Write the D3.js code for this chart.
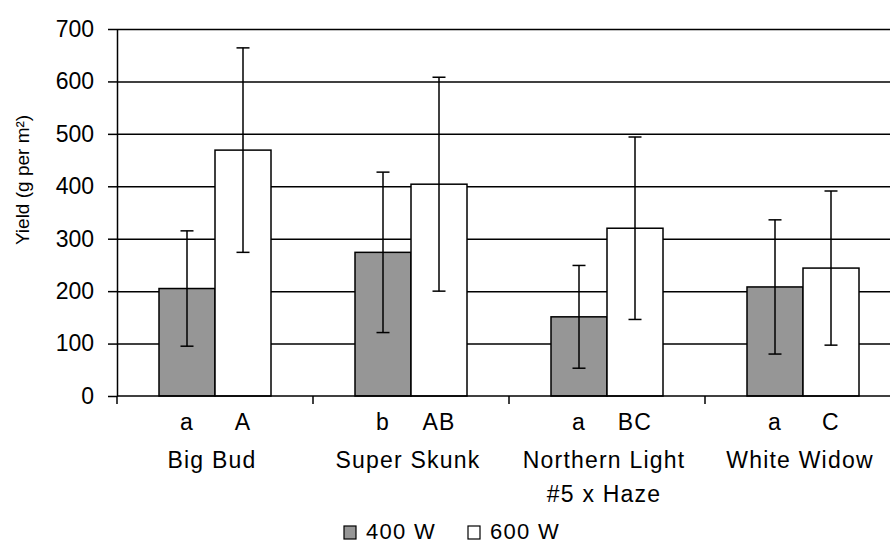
<!DOCTYPE html>
<html>
  <head>
    <meta charset="utf-8">
    <script src="https://cdn.jsdelivr.net/npm/d3@7/dist/d3.min.js"></script>
    <style type="text/css">
      body { margin: 0; background: #fff; }
      svg { display: block; overflow: hidden; }
      text { font-family: "Liberation Sans", Arial, sans-serif; fill: #000; }
      .axis path, .axis line { fill: none; stroke: #000; stroke-width: 1.5; }
      .axis text { font-size: 23px; }
      .grid line { stroke: #000; stroke-width: 1.5; }
      .grid path { display: none; }
      .lbl { font-size: 23px; letter-spacing: 1.2px; }
      .leg { font-size: 22px; letter-spacing: 1.3px; }
      .ytitle { font-family: "Liberation Sans Narrow", "Arial Narrow", sans-serif; font-size: 19px; }
    </style>
  </head>
  <body>
    <div class="plot_canvas"></div>
    <script>
      // data
      var categories = ["Big Bud", "Super Skunk", "Northern Light|#5 x Haze", "White Widow"];
      var series = ["400 W", "600 W"];
      var yield400 = [205, 274, 151, 208];
      var err400 = [110, 153, 98, 128];
      var yield600 = [469, 404, 320, 244];
      var err600 = [195, 204, 174, 147];
      var letters400 = ["a", "b", "a", "a"];
      var letters600 = ["A", "AB", "BC", "C"];
      var yTicks = [0, 100, 200, 300, 400, 500, 600, 700];

      var width = 890, height = 544;
      var margin = {top: 29, left: 117, bottom: 148};
      var plotRight = 901; // the plot runs a little past the picture edge
      var colours = {"400 W": "#969696", "600 W": "#ffffff"};

      var svg = d3.select(".plot_canvas").append("svg")
        .attr("width", width)
        .attr("height", height);

      var x = d3.scaleBand()
        .domain(categories)
        .range([margin.left, plotRight])
        .padding(0);

      var xs = d3.scaleBand()
        .domain(series)
        .range([0, x.bandwidth()])
        .paddingInner(0)
        .paddingOuter(0.75);

      var y = d3.scaleLinear()
        .domain([0, 700])
        .range([height - margin.bottom, margin.top]);

      var y0 = y(0);

      // gridlines
      svg.append("g")
        .attr("class", "grid")
        .attr("transform", "translate(" + margin.left + ",0)")
        .call(d3.axisRight(y).tickValues(yTicks.slice(1)).tickSize(plotRight - margin.left).tickFormat(""));

      var rows = categories.map(function(c, i) {
        return [
          {cat: c, s: "400 W", v: yield400[i], e: err400[i], l: letters400[i]},
          {cat: c, s: "600 W", v: yield600[i], e: err600[i], l: letters600[i]}
        ];
      });
      var flat = d3.merge(rows);

      // bars
      svg.append("g").selectAll("rect")
        .data(flat).enter()
        .append("rect")
        .attr("x", function(d) { return x(d.cat) + xs(d.s); })
        .attr("y", function(d) { return y(d.v); })
        .attr("width", xs.bandwidth())
        .attr("height", function(d) { return y0 - y(d.v); })
        .attr("fill", function(d) { return colours[d.s]; })
        .attr("stroke", "#000")
        .attr("stroke-width", 1.5);

      // error bars
      var cap = 6.5;
      var eb = svg.append("g").selectAll("g")
        .data(flat).enter()
        .append("g")
        .attr("stroke", "#000")
        .attr("stroke-width", 1.5);
      function cx(d) { return x(d.cat) + xs(d.s) + xs.bandwidth() / 2; }
      eb.append("line")
        .attr("x1", cx).attr("x2", cx)
        .attr("y1", function(d) { return y(d.v + d.e); })
        .attr("y2", function(d) { return y(d.v - d.e); });
      eb.append("line")
        .attr("x1", function(d) { return cx(d) - cap; })
        .attr("x2", function(d) { return cx(d) + cap; })
        .attr("y1", function(d) { return y(d.v + d.e); })
        .attr("y2", function(d) { return y(d.v + d.e); });
      eb.append("line")
        .attr("x1", function(d) { return cx(d) - cap; })
        .attr("x2", function(d) { return cx(d) + cap; })
        .attr("y1", function(d) { return y(d.v - d.e); })
        .attr("y2", function(d) { return y(d.v - d.e); });

      // y axis
      svg.append("g")
        .attr("class", "axis")
        .attr("transform", "translate(" + margin.left + ",0)")
        .call(d3.axisLeft(y).tickValues(yTicks).tickSize(9).tickPadding(14).tickSizeOuter(0));

      // x axis line with ticks between the groups
      var bounds = categories.map(function(c) { return x(c); }).concat([x.range()[1]]);
      var xAxis = svg.append("g").attr("class", "axis");
      xAxis.append("line")
        .attr("x1", margin.left).attr("x2", plotRight)
        .attr("y1", y0).attr("y2", y0);
      xAxis.selectAll(".tk")
        .data(bounds).enter()
        .append("line")
        .attr("class", "tk")
        .attr("x1", function(d) { return d; }).attr("x2", function(d) { return d; })
        .attr("y1", y0).attr("y2", y0 + 8);

      // significance letters
      svg.append("g").selectAll("text")
        .data(flat).enter()
        .append("text")
        .attr("class", "lbl")
        .attr("x", cx)
        .attr("y", y0 + 34)
        .attr("text-anchor", "middle")
        .text(function(d) { return d.l; });

      // category names
      var names = svg.append("g").selectAll("text")
        .data(categories).enter()
        .append("text")
        .attr("class", "lbl")
        .attr("text-anchor", "middle")
        .attr("x", function(d) { return x(d) + x.bandwidth() / 2 - 3; })
        .attr("y", y0 + 72);
      names.selectAll("tspan")
        .data(function(d) { return d.split("|"); }).enter()
        .append("tspan")
        .attr("x", function() { return d3.select(this.parentNode).attr("x"); })
        .attr("dy", function(d, i) { return i ? 34 : 0; })
        .text(function(d) { return d; });

      // y title
      svg.append("text")
        .attr("class", "ytitle")
        .attr("transform", "translate(29," + 180 + ") rotate(-90)")
        .attr("text-anchor", "middle")
        .text("Yield (g per m\u00b2)");

      // legend
      var legend = svg.append("g")
        .attr("transform", "translate(344,526)");
      var li = legend.selectAll("g")
        .data(series).enter()
        .append("g")
        .attr("transform", function(d, i) { return "translate(" + (i * 124) + ",0)"; });
      li.append("rect")
        .attr("width", 12).attr("height", 13)
        .attr("fill", function(d) { return colours[d]; })
        .attr("stroke", "#000")
        .attr("stroke-width", 1.2);
      li.append("text")
        .attr("class", "leg")
        .attr("x", 22)
        .attr("y", 12.5)
        .text(function(d) { return d; });
    </script>
  </body>
</html>
